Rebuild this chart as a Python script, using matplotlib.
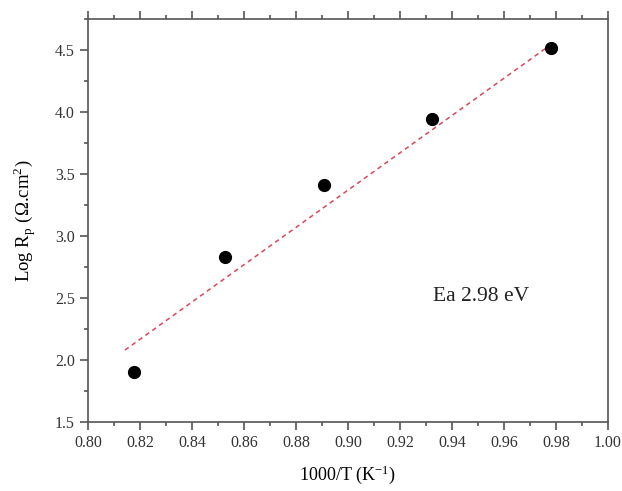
import matplotlib
matplotlib.use("Agg")
from matplotlib import pyplot as plt
from matplotlib.ticker import MultipleLocator

# data
inv_temp = [0.8177, 0.8527, 0.8908, 0.9323, 0.978]
log_rp = [1.90, 2.83, 3.41, 3.94, 4.52]

# end points of the fitted line
fit_x = [0.8142, 0.9758]
fit_y = [2.08, 4.51]

plt.rcParams['font.family'] = ['Liberation Serif', 'DejaVu Serif']
plt.rcParams['mathtext.fontset'] = 'stix'

fig = plt.figure(figsize=(6.22, 4.91), dpi=100)
ax = fig.add_axes([0.1415, 0.1405, 0.836, 0.8208])

ax.plot(fit_x, fit_y, color='#dc4658', linestyle=(0, (3, 2.5)), linewidth=1.1)
ax.plot(inv_temp, log_rp, 'o', color='black', markersize=8.5)

ax.set_xlim(0.80, 1.00)
ax.set_ylim(1.5, 4.75)
ax.xaxis.set_major_locator(MultipleLocator(0.02))
ax.xaxis.set_minor_locator(MultipleLocator(0.01))
ax.yaxis.set_major_locator(MultipleLocator(0.5))
ax.yaxis.set_minor_locator(MultipleLocator(0.25))
ax.set_xticklabels([f'{v:.2f}' for v in ax.get_xticks()])

edge = '#555555'
for s in ax.spines.values():
    s.set_color(edge)
    s.set_linewidth(1.2)
ax.tick_params(which='both', direction='out', colors=edge, labelcolor='#333333',
               top=True, right=False, labelsize=11.5, width=1.2)
ax.tick_params(which='major', length=6)
ax.tick_params(which='minor', length=3)

ax.set_xlabel('1000/T (K$^{\\mathregular{-1}}$)', fontsize=13, labelpad=9)
ax.set_ylabel('Log R$_{\\mathregular{p}}$ ($\\mathregular{\\Omega}$.cm$^{\\mathregular{2}}$)',
              fontsize=13.5, labelpad=12)

ax.text(0.9327, 2.51, 'Ea 2.98 eV', fontsize=15.5, va='center', ha='left', color='#222222')

plt.savefig('out.png', dpi=100)
